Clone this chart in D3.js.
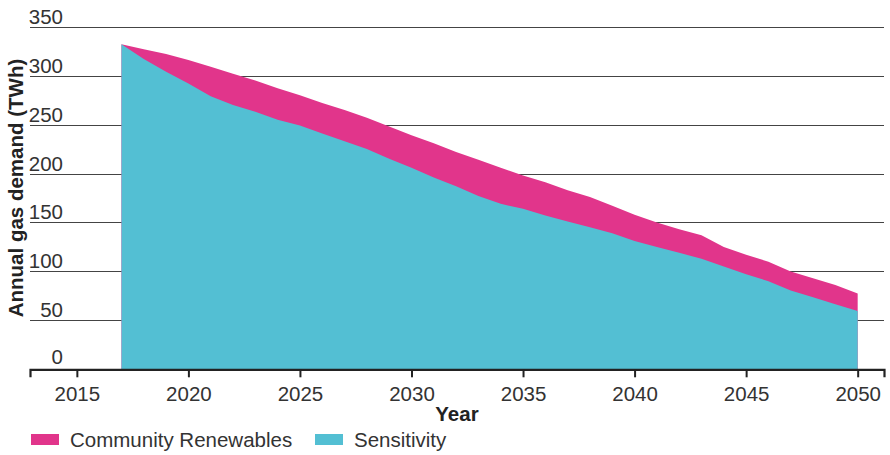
<!DOCTYPE html>
<html>
<head>
<meta charset="utf-8">
<script src="https://cdn.jsdelivr.net/npm/d3@7/dist/d3.min.js"></script>
<style>
    body { margin: 0; background: #fff; }
    svg { display: block; font-family: 'Liberation Sans', Arial, sans-serif; }
</style>
</head>
<body>
<script>
'use strict';

// values, TWh per year
var years = d3.range(2017, 2051);
var community = [332, 327, 322, 316, 309, 302, 295, 287, 280, 272, 265, 257, 248, 239, 231, 222, 214,
    206, 198, 191, 183, 176, 167, 158, 150, 143, 137, 125, 117, 110, 100, 93, 86, 77.5];
var sensitivity = [332, 317, 304, 292, 279, 270, 263, 255, 249, 241, 233, 225, 215, 206, 196, 187, 177,
    169, 164, 157, 151, 145, 139, 131, 125, 119, 113, 105, 97, 90, 80.5, 73.5, 66.5, 59.5];
var xTicks = [2015, 2020, 2025, 2030, 2035, 2040, 2045, 2050];
var yTicks = [0, 50, 100, 150, 200, 250, 300, 350];
var seriesNames = ['Community Renewables', 'Sensitivity'];
var colors = ['#e1358b', '#53bfd3'];

var width = 890;
var height = 455;

var svg = d3.select('body').append('svg')
    .attr('width', width)
    .attr('height', height);

var x = d3.scaleLinear().domain([2012.9, 2051.18]).range([30, 884]);
var y = d3.scaleLinear().domain([0, 350]).range([369.3, 26.7]);

// gridlines
svg.append('g')
    .selectAll('line')
    .data(yTicks.filter(function (d) { return d > 0; }))
    .enter().append('line')
    .attr('x1', 30)
    .attr('x2', 884)
    .attr('y1', function (d) { return Math.round(y(d)) + 0.5; })
    .attr('y2', function (d) { return Math.round(y(d)) + 0.5; })
    .attr('stroke', '#444')
    .attr('stroke-width', 1.2);

// y labels sit just above their gridline
svg.append('g')
    .selectAll('text')
    .data(yTicks)
    .enter().append('text')
    .attr('x', 63)
    .attr('y', function (d) { return y(d) - (d === 0 ? 5 : 3); })
    .attr('text-anchor', 'end')
    .attr('font-size', 20.5)
    .attr('fill', '#333')
    .text(function (d) { return d; });

var area = function (values) {
    return d3.area()
        .x(function (d, i) { return x(years[i]); })
        .y0(y(0))
        .y1(function (d) { return y(d); })(values);
};

svg.append('path')
    .attr('d', area(community))
    .attr('fill', colors[0]);

svg.append('path')
    .attr('d', area(sensitivity))
    .attr('fill', colors[1]);

// x axis
var xAxis = svg.append('g')
    .attr('transform', 'translate(0,' + y(0) + ')')
    .call(d3.axisBottom(x).tickValues(xTicks).tickFormat(d3.format('d')).tickSizeOuter(0).tickSize(8).tickPadding(9));

xAxis.select('.domain')
    .attr('stroke', '#222')
    .attr('stroke-width', 2.2);
xAxis.selectAll('.tick line')
    .attr('stroke', '#222')
    .attr('stroke-width', 2);
xAxis.selectAll('.tick text')
    .attr('font-size', 20.5)
    .attr('font-family', 'Liberation Sans, Arial, sans-serif')
    .attr('fill', '#333');

// titles
svg.append('text')
    .attr('x', 457)
    .attr('y', 421)
    .attr('text-anchor', 'middle')
    .attr('font-size', 20.5)
    .attr('font-weight', 'bold')
    .attr('fill', '#222')
    .text('Year');

svg.append('text')
    .attr('transform', 'translate(23,188) rotate(-90)')
    .attr('text-anchor', 'middle')
    .attr('font-size', 20.5)
    .attr('font-weight', 'bold')
    .attr('fill', '#222')
    .text('Annual gas demand (TWh)');

// legend
var legendX = [31, 315];
var legend = svg.append('g')
    .selectAll('g')
    .data(seriesNames)
    .enter().append('g')
    .attr('transform', function (d, i) { return 'translate(' + legendX[i] + ',434)'; });

legend.append('rect')
    .attr('width', 28)
    .attr('height', 11)
    .attr('fill', function (d, i) { return colors[i]; });

legend.append('text')
    .attr('x', 39)
    .attr('y', 12.5)
    .attr('font-size', 20.5)
    .attr('fill', '#333')
    .text(function (d) { return d; });
</script>
</body>
</html>
